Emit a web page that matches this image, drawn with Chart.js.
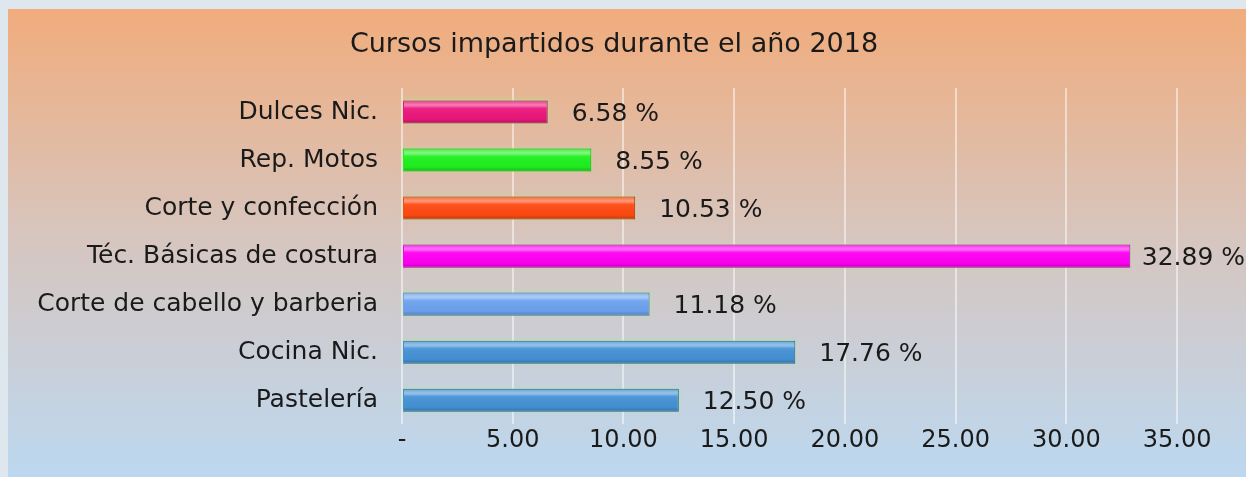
<!DOCTYPE html>
<html>
<head>
<meta charset="utf-8">
<script src="https://cdn.jsdelivr.net/npm/chart.js@4"></script>
<style>
  html, body { margin: 0; padding: 0; background: #dfe7ee; }
  #wrap { width: 1246px; height: 477px; position: relative; }
</style>
</head>
<body>
<div id="wrap"><canvas id="barchart1" width="1246" height="477"></canvas></div>
<script>
var cursos = ['Dulces Nic.', 'Rep. Motos', 'Corte y confección', 'Téc. Básicas de costura',
              'Corte de cabello y barberia', 'Cocina Nic.', 'Pastelería'];
var porcentajes = [6.58, 8.55, 10.53, 32.89, 11.18, 17.76, 12.50];
var colores = ['#ec177c', '#1ff01f', '#ff4a12', '#ff00f4', '#6ea2ef', '#4592d6', '#4592d6'];
var bordes = ['#9c1050', '#14a014', '#b03008', '#b000a8', '#3e6aa8', '#2a5f90', '#2a5f90'];
var ticksX = [0, 5, 10, 15, 20, 25, 30, 35];

var fuente = '"DejaVu Sans", "Liberation Sans", Arial, sans-serif';

var fondo = {
  id: 'fondo',
  beforeDraw: function(chart) {
    var ctx = chart.ctx;
    var g = ctx.createLinearGradient(0, 9, 0, 477);
    g.addColorStop(0, '#f1ac7c');
    g.addColorStop(0.5, '#d6c6c0');
    g.addColorStop(1, '#bcd8f0');
    ctx.save();
    ctx.fillStyle = g;
    ctx.fillRect(8, 9, 1238, 468);
    ctx.restore();
  }
};

var brillo = {
  id: 'brillo',
  beforeDatasetsDraw: function(chart) {
    var ctx = chart.ctx;
    ctx.save();
    ctx.shadowColor = 'rgba(170,240,140,0.9)';
    ctx.shadowBlur = 5;
    ctx.shadowOffsetY = -1;
    chart.getDatasetMeta(0).data.forEach(function(bar) {
      var h = bar.height;
      ctx.fillStyle = 'rgba(170,240,140,0.5)';
      ctx.fillRect(bar.base, bar.y - h / 2, bar.x - bar.base, h);
    });
    ctx.restore();
  },
  afterDatasetsDraw: function(chart) {
    var ctx = chart.ctx;
    var meta = chart.getDatasetMeta(0);
    ctx.save();
    meta.data.forEach(function(bar, i) {
      var top = bar.y - bar.height / 2;
      var w = bar.x - bar.base;
      var g = ctx.createLinearGradient(0, top, 0, top + bar.height);
      g.addColorStop(0, 'rgba(255,255,255,0.15)');
      g.addColorStop(0.2, 'rgba(255,255,255,0.45)');
      g.addColorStop(0.35, 'rgba(255,255,255,0.05)');
      g.addColorStop(0.8, 'rgba(0,0,0,0.02)');
      g.addColorStop(1, 'rgba(0,0,0,0.25)');
      ctx.fillStyle = g;
      ctx.fillRect(bar.base + 1, top + 1, w - 2, bar.height - 2);

      // etiqueta de valor
      var txt = porcentajes[i].toFixed(2) + ' %';
      ctx.font = '25px ' + fuente;
      ctx.fillStyle = '#1a1a1a';
      ctx.textBaseline = 'middle';
      ctx.textAlign = 'left';
      var tw = ctx.measureText(txt).width;
      var off = Math.min(24, 1246 - 1 - bar.x - tw);
      ctx.fillText(txt, bar.x + off, bar.y + 2);
    });
    ctx.restore();
  }
};

const ch1 = document.getElementById('barchart1').getContext('2d');
const barchart1 = new Chart(ch1, {
  type: 'bar',
  data: {
    labels: cursos,
    datasets: [{
      data: porcentajes,
      backgroundColor: colores,
      borderColor: bordes,
      borderWidth: 1,
      barPercentage: 0.96,
      categoryPercentage: 0.5
    }]
  },
  options: {
    indexAxis: 'y',
    responsive: false,
    animation: false,
    layout: { padding: { top: 9, right: 18, bottom: 20, left: 0 } },
    plugins: {
      legend: { display: false },
      tooltip: { enabled: false },
      title: {
        display: true,
        text: 'Cursos impartidos durante el año 2018',
        color: '#1a1a1a',
        font: { family: fuente, size: 27, weight: 'normal' },
        padding: { top: 20, bottom: 26.6 }
      }
    },
    scales: {
      x: {
        min: 0,
        max: 37.3,
        afterBuildTicks: function(scale) {
          scale.ticks = ticksX.map(function(v) { return { value: v }; });
        },
        grid: { color: 'rgba(255,255,255,0.5)', lineWidth: 2, drawTicks: false },
        border: { display: false },
        ticks: {
          padding: 2,
          color: '#1a1a1a',
          font: { family: fuente, size: 24 },
          callback: function(v) { return v === 0 ? '-' : Number(v).toFixed(2); }
        }
      },
      y: {
        afterFit: function(scale) { scale.width = 402; },
        grid: { display: false, drawTicks: false },
        border: { display: false },
        ticks: {
          padding: 24,
          color: '#1a1a1a',
          font: { family: fuente, size: 25 }
        }
      }
    }
  },
  plugins: [fondo, brillo]
});
</script>
</body>
</html>
